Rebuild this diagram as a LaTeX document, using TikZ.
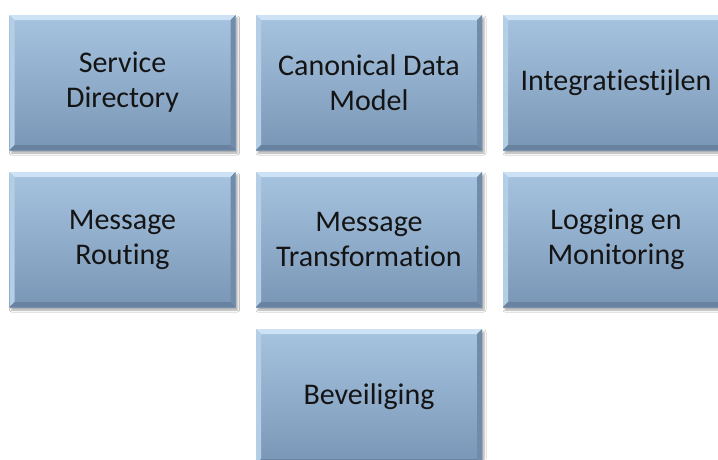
\documentclass[tikz,border=0pt]{standalone}
\usepackage{fontspec}
\setmainfont{Carlito}[RawFeature={-liga;-clig;-calt;-dlig}]
\usetikzlibrary{shadows.blur}

\definecolor{boxtop}{RGB}{166,196,224}
\definecolor{boxbottom}{RGB}{122,150,182}
\definecolor{bevlight}{RGB}{205,226,244}
\definecolor{bevside}{RGB}{180,206,230}
\definecolor{bevdark}{RGB}{104,130,160}
\definecolor{bevright}{RGB}{112,140,170}
\definecolor{boxtext}{RGB}{20,20,20}

\tikzset{
  tile/.style={
    minimum width=226pt, minimum height=135pt, inner sep=0pt,
    top color=boxtop, bottom color=boxbottom,
    align=center, text=boxtext,
    font=\fontsize{30}{35}\selectfont,
    blur shadow={shadow xshift=2pt, shadow yshift=-3pt,
                 shadow blur radius=2pt, shadow opacity=35},
    path picture={
      \def\bb{path picture bounding box}
      % bevelled rim: light top and left, dark bottom and right
      \fill[bevlight] (\bb.north west) -- (\bb.north east)
        -- ([shift={(-5pt,-5pt)}]\bb.north east)
        -- ([shift={(5pt,-5pt)}]\bb.north west) -- cycle;
      \fill[bevside] (\bb.north west) -- ([shift={(5pt,-5pt)}]\bb.north west)
        -- ([shift={(5pt,5pt)}]\bb.south west) -- (\bb.south west) -- cycle;
      \fill[bevright] (\bb.north east) -- ([shift={(-5pt,-5pt)}]\bb.north east)
        -- ([shift={(-5pt,5pt)}]\bb.south east) -- (\bb.south east) -- cycle;
      \fill[bevdark] (\bb.south west) -- ([shift={(5pt,5pt)}]\bb.south west)
        -- ([shift={(-5pt,5pt)}]\bb.south east) -- (\bb.south east) -- cycle;
    }
  }
}

\begin{document}
\begin{tikzpicture}[x=1pt, y=-1pt]
  \useasboundingbox[fill=white] (0,0) rectangle (718,459);

  \node[tile] (directory) at (122.5,82.5)  {Service\\Directory};
  \node[tile] (cdm)       at (369,82.5)    {Canonical Data\\Model};
  \node[tile] (styles)    at (616,82.5)    {Integratiestijlen};

  \node[tile] (routing)   at (122.5,239.5) {Message\\Routing};
  \node[tile] (transform) at (369,239.5)   {Message\\Transformation};
  \node[tile] (logging)   at (616,239.5)   {Logging en\\Monitoring};

  \node[tile] (security)  at (369,396.5)   {Beveiliging};
\end{tikzpicture}
\end{document}
